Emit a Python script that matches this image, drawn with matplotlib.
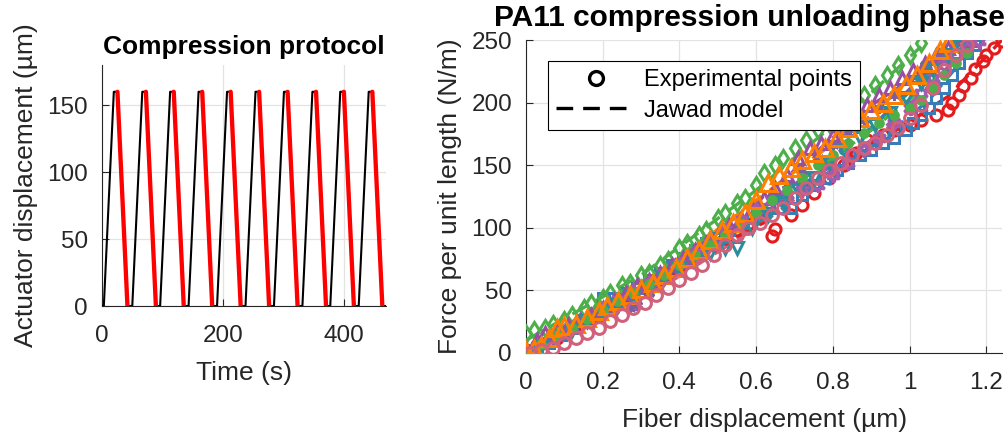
import numpy as np
import matplotlib
matplotlib.use('Agg')
from matplotlib import pyplot as plt
from matplotlib.lines import Line2D

plt.rcParams['font.family'] = ['Liberation Sans', 'DejaVu Sans']

# ---- left panel: compression protocol (times in s, displacement in um)
peak = 160
load_start = [3, 50, 96, 143, 190, 237, 284, 331, 377, 424]
load_end = [19.5, 66.5, 112.5, 159.5, 206.5, 253.5, 300.5, 347.5, 393.5, 440.5]
unload_start = [25.5, 72.5, 118.5, 165.5, 212.5, 259.5, 306.5, 353.5, 399.5, 446.5]
unload_end = [42, 89, 135, 182, 229, 276, 323, 370, 416, 463]
t_final = 469

# ---- right panel: unloading curves, one per cycle
red_x = [0.00, 0.03, 0.06, 0.08, 0.11, 0.13, 0.16, 0.19, 0.22, 0.25, 0.28, 0.31, 0.34, 0.37, 0.40, 0.43, 0.46, 0.49, 0.52, 0.55, 0.58, 0.61, 0.64, 0.65, 0.69, 0.72, 0.75, 0.79, 0.83, 0.86, 0.89, 0.93, 0.96, 1.00, 1.03, 1.07, 1.10, 1.11, 1.13, 1.14, 1.16, 1.17, 1.19, 1.20, 1.22, 1.24]
red_y = [2, 6, 9, 12, 17, 22, 26, 30, 35, 40, 46, 52, 57, 63, 68, 74, 80, 86, 92, 98, 103, 108, 93, 99, 110, 118, 128, 140, 150, 160, 170, 174, 178, 182, 186, 190, 194, 200, 206, 213, 220, 227, 233, 238, 244, 249]
blue_x = [0.00, 0.03, 0.06, 0.09, 0.12, 0.15, 0.18, 0.20, 0.23, 0.26, 0.29, 0.32, 0.35, 0.38, 0.41, 0.44, 0.47, 0.50, 0.53, 0.56, 0.59, 0.62, 0.66, 0.69, 0.72, 0.75, 0.78, 0.81, 0.84, 0.87, 0.90, 0.93, 0.96, 0.99, 1.01, 1.03, 1.05, 1.07, 1.09, 1.11, 1.13, 1.15, 1.17]
blue_y = [0, 3, 8, 14, 20, 26, 32, 44, 44, 48, 52, 58, 64, 70, 76, 82, 88, 92, 98, 104, 108, 112, 116, 116, 126, 134, 140, 146, 152, 158, 162, 168, 172, 178, 184, 190, 196, 204, 212, 222, 232, 240, 246]
green_x = [0.00, 0.02, 0.05, 0.07, 0.10, 0.12, 0.15, 0.17, 0.20, 0.22, 0.25, 0.27, 0.30, 0.32, 0.35, 0.37, 0.40, 0.42, 0.45, 0.47, 0.50, 0.52, 0.55, 0.57, 0.60, 0.62, 0.65, 0.67, 0.70, 0.73, 0.76, 0.79, 0.82, 0.85, 0.88, 0.91, 0.94, 0.97, 1.00, 1.03]
green_y = [15, 18, 20, 23, 26, 30, 36, 40, 44, 48, 54, 56, 62, 64, 70, 74, 84, 88, 94, 98, 108, 112, 120, 124, 134, 144, 150, 156, 164, 170, 178, 184, 190, 198, 206, 214, 222, 230, 238, 248]
purple_x = [0.00, 0.03, 0.05, 0.08, 0.11, 0.14, 0.17, 0.20, 0.23, 0.26, 0.29, 0.32, 0.35, 0.38, 0.41, 0.44, 0.47, 0.50, 0.53, 0.56, 0.59, 0.62, 0.65, 0.68, 0.71, 0.74, 0.77, 0.80, 0.83, 0.86, 0.89, 0.92, 0.95, 0.98, 1.01, 1.04, 1.07, 1.10, 1.13, 1.16]
purple_y = [3, 10, 16, 20, 22, 26, 30, 36, 42, 48, 54, 58, 64, 70, 76, 82, 88, 94, 102, 108, 116, 124, 132, 142, 156, 164, 168, 174, 182, 190, 198, 206, 212, 220, 226, 232, 238, 244, 248, 250]
hexa_x = [0.00, 0.04, 0.08, 0.12, 0.16, 0.20, 0.24, 0.28, 0.32, 0.36, 0.40, 0.44, 0.48, 0.52, 0.56, 0.60, 0.64, 0.68, 0.72, 0.76, 0.80, 0.84, 0.88, 0.92, 0.96, 1.00, 1.03, 1.06, 1.09, 1.12, 1.15, 1.18]
hexa_y = [0, 6, 13, 20, 27, 35, 42, 49, 56, 63, 71, 80, 88, 98, 106, 114, 122, 126, 130, 134, 142, 152, 162, 172, 184, 196, 208, 220, 230, 238, 244, 249]
aster_x = [0.00, 0.04, 0.07, 0.11, 0.15, 0.19, 0.23, 0.27, 0.29, 0.32, 0.36, 0.40, 0.44, 0.48, 0.52, 0.56, 0.60, 0.64, 0.68, 0.72, 0.76, 0.80, 0.84, 0.88, 0.92, 0.96, 1.00, 1.04, 1.08, 1.12]
aster_y = [0, 6, 10, 16, 24, 30, 34, 36, 38, 48, 58, 66, 76, 86, 94, 104, 112, 124, 134, 146, 156, 166, 176, 186, 196, 206, 218, 230, 240, 248]
teal_x = [0.00, 0.04, 0.08, 0.12, 0.16, 0.20, 0.24, 0.28, 0.32, 0.36, 0.40, 0.44, 0.48, 0.52, 0.55, 0.59, 0.63, 0.67, 0.71, 0.75, 0.79, 0.83, 0.87, 0.91, 0.95, 0.99, 1.03, 1.06, 1.10, 1.13]
teal_y = [0, 5, 12, 18, 25, 32, 38, 45, 52, 60, 68, 74, 80, 84, 84, 100, 110, 120, 130, 140, 152, 162, 172, 182, 192, 204, 216, 226, 238, 246]
dot_x = [0.00, 0.04, 0.08, 0.12, 0.16, 0.20, 0.24, 0.28, 0.32, 0.36, 0.40, 0.44, 0.48, 0.52, 0.56, 0.60, 0.64, 0.68, 0.72, 0.76, 0.80, 0.84, 0.88, 0.92, 0.96, 1.00, 1.03, 1.06, 1.09, 1.12, 1.15]
dot_y = [2, 7, 14, 20, 27, 34, 41, 48, 55, 62, 70, 78, 86, 94, 104, 112, 122, 130, 140, 150, 158, 168, 176, 184, 190, 196, 202, 212, 222, 232, 240]
orange_x = [0.00, 0.02, 0.04, 0.06, 0.08, 0.10, 0.13, 0.16, 0.19, 0.21, 0.24, 0.27, 0.30, 0.33, 0.36, 0.39, 0.42, 0.45, 0.48, 0.51, 0.54, 0.57, 0.60, 0.63, 0.66, 0.69, 0.72, 0.75, 0.78, 0.81, 0.84, 0.87, 0.90, 0.93, 0.96, 0.99, 1.02, 1.05, 1.08, 1.10]
orange_y = [1, 3, 5, 12, 20, 21, 23, 28, 33, 37, 41, 46, 51, 56, 62, 68, 76, 82, 90, 98, 104, 112, 122, 136, 142, 148, 154, 160, 164, 172, 180, 188, 194, 200, 206, 214, 222, 232, 242, 248]
pink_x = [0.01, 0.04, 0.07, 0.10, 0.13, 0.16, 0.19, 0.22, 0.25, 0.28, 0.31, 0.34, 0.37, 0.40, 0.43, 0.46, 0.49, 0.52, 0.55, 0.58, 0.61, 0.64, 0.67, 0.70, 0.73, 0.76, 0.79, 0.82, 0.85, 0.88, 0.91, 0.94, 0.97, 1.00, 1.03, 1.06, 1.09, 1.12, 1.15]
pink_y = [0, 2, 4, 8, 12, 16, 20, 25, 30, 36, 40, 46, 52, 58, 64, 70, 78, 86, 94, 100, 104, 110, 116, 124, 132, 140, 146, 152, 158, 164, 168, 174, 180, 188, 198, 212, 226, 238, 246]

# Jawad model curves (read at a few displacements)
red_mx = [0, 0.3, 0.6, 0.9, 1.1, 1.24]
red_my = [0, 48, 108, 165, 205, 250]
blue_mx = [0, 0.3, 0.6, 0.9, 1.05, 1.17]
blue_my = [0, 52, 106, 164, 202, 246]
green_mx = [0, 0.3, 0.6, 0.9, 1.03]
green_my = [10, 62, 130, 208, 245]
purple_mx = [0, 0.3, 0.6, 0.9, 1.16]
purple_my = [2, 55, 120, 198, 250]
hexa_mx = [0, 0.3, 0.6, 0.9, 1.17]
hexa_my = [0, 50, 110, 170, 248]
aster_mx = [0, 0.3, 0.6, 0.9, 1.12]
aster_my = [0, 44, 112, 180, 248]
teal_mx = [0, 0.3, 0.6, 0.9, 1.13]
teal_my = [0, 48, 102, 180, 246]
dot_mx = [0, 0.3, 0.6, 0.9, 1.15]
dot_my = [2, 50, 112, 178, 240]
orange_mx = [0, 0.3, 0.6, 0.9, 1.1]
orange_my = [0, 52, 122, 190, 248]
pink_mx = [0, 0.3, 0.6, 0.9, 1.05, 1.15]
pink_my = [0, 42, 100, 168, 210, 248]

series = [
    (red_x, red_y, red_mx, red_my, '#e41a1c', 'o', 8),
    (blue_x, blue_y, blue_mx, blue_my, '#377eb8', 's', 7.5),
    (green_x, green_y, green_mx, green_my, '#4daf4a', 'd', 8),
    (purple_x, purple_y, purple_mx, purple_my, '#984ea3', '^', 9),
    (hexa_x, hexa_y, hexa_mx, hexa_my, '#a35bb0', (6, 1, 0), 10),
    (aster_x, aster_y, aster_mx, aster_my, '#7b5fa0', (6, 2, 0), 8),
    (teal_x, teal_y, teal_mx, teal_my, '#2b8c9e', 'v', 8),
    (dot_x, dot_y, dot_mx, dot_my, '#4daf4a', 'o', 5.5),
    (orange_x, orange_y, orange_mx, orange_my, '#ff7f00', '^', 11),
    (pink_x, pink_y, pink_mx, pink_my, '#d1607a', 'o', 8.5),
]

dark = '#262626'
fig = plt.figure(figsize=(10.08, 4.34), dpi=100)

# ---------------- left
ax1 = fig.add_axes([0.1012, 0.2949, 0.2817, 0.5553])
t = [0]
d = [0]
for a, b, c, e in zip(load_start, load_end, unload_start, unload_end):
    t += [a, b, c, e]
    d += [0, peak, peak, 0]
t.append(t_final)
d.append(0)
ax1.plot(t, d, color='k', lw=1.5, zorder=3)
for c, e in zip(unload_start, unload_end):
    ax1.plot([c, e], [peak, 0], color='#ff0000', lw=3.1, solid_capstyle='round', zorder=4)
ax1.set_xlim(0, 469)
ax1.set_ylim(0, 180)
ax1.set_xticks([0, 200, 400])
ax1.set_yticks([0, 50, 100, 150])
ax1.set_xlabel('Time (s)', fontsize=19, color=dark, labelpad=10)
ax1.set_ylabel('Actuator displacement (µm)', fontsize=19, color=dark, labelpad=7)
ax1.set_title('Compression protocol', fontsize=19, fontweight='bold', pad=8)

# ---------------- right
ax2 = fig.add_axes([0.5218, 0.1873, 0.4727, 0.7200])
for x, y, mx, my, col, mk, ms in series:
    ax2.plot(mx, my, '--', color=col, lw=2.4, dashes=(5, 3), zorder=3)
for x, y, mx, my, col, mk, ms in series:
    filled = (mk == 'o' and ms < 6) or mk == (6, 2, 0)
    ax2.plot(x, y, linestyle='none', marker=mk, ms=ms, mew=2.2,
             mec=col, mfc=col if filled else 'none', zorder=4)
ax2.set_xlim(0, 1.242)
ax2.set_ylim(0, 250)
ax2.set_xticks([0, 0.2, 0.4, 0.6, 0.8, 1, 1.2])
ax2.set_xticklabels(['0', '0.2', '0.4', '0.6', '0.8', '1', '1.2'])
ax2.set_yticks([0, 50, 100, 150, 200, 250])
ax2.set_xlabel('Fiber displacement (µm)', fontsize=19, color=dark, labelpad=10)
ax2.set_ylabel('Force per unit length (N/m)', fontsize=19, color=dark, labelpad=7)
ax2.set_title('PA11 compression unloading phase', fontsize=21.5, fontweight='bold', pad=10, x=0.468)

handles = [Line2D([], [], ls='none', marker='o', ms=10, mew=2.4, mec='k', mfc='none'),
           Line2D([], [], ls='--', color='k', lw=2.4, dashes=(5, 3))]
leg = ax2.legend(handles, ['Experimental points', 'Jawad model'], loc='upper left',
                 bbox_to_anchor=(0.046, 0.933), borderaxespad=0, fontsize=17,
                 handlelength=3.4, handletextpad=0.3, fancybox=False, framealpha=1,
                 edgecolor='k', borderpad=0.35, labelspacing=0.35)
leg.get_frame().set_linewidth(0.8)
leg.set_zorder(10)

for ax in (ax1, ax2):
    ax.grid(True, color='#e3e3e3', lw=0.9)
    ax.set_axisbelow(True)
    ax.spines['top'].set_visible(False)
    ax.spines['right'].set_visible(False)
    ax.spines['left'].set_color(dark)
    ax.spines['bottom'].set_color(dark)
    ax.tick_params(direction='in', length=5, width=0.8, colors=dark, labelsize=17.5)
    ax.tick_params(axis='x', pad=14)
    ax.tick_params(axis='y', pad=10)

plt.savefig('out.png', dpi=100)
